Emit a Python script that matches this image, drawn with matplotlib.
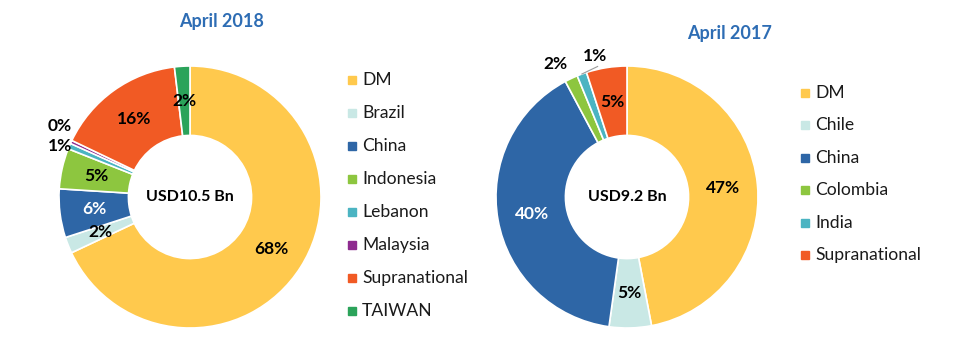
import numpy as np
import matplotlib
matplotlib.use("Agg")
import matplotlib.pyplot as plt

# ---------------- data ----------------
title_2018 = "April 2018"
total_2018 = "USD10.5 Bn"
cats_2018 = ["DM", "Brazil", "China", "Indonesia", "Lebanon", "Malaysia", "Supranational", "TAIWAN"]
vals_2018 = [68.0, 2.0, 6.0, 5.0, 0.7, 0.4, 16.0, 1.9]
labels_2018 = ["68%", "2%", "6%", "5%", "1%", "0%", "16%", "2%"]

title_2017 = "April 2017"
total_2017 = "USD9.2 Bn"
cats_2017 = ["DM", "Chile", "China", "Colombia", "India", "Supranational"]
vals_2017 = [47.0, 5.2, 40.0, 1.6, 1.2, 5.0]
labels_2017 = ["47%", "5%", "40%", "2%", "1%", "5%"]

# ---------------- style ----------------
colors = {
    "DM": "#FFC94D", "Brazil": "#C9E8E5", "Chile": "#C9E8E5",
    "China": "#2E66A6", "Indonesia": "#8DC63F", "Colombia": "#8DC63F",
    "Lebanon": "#4BB4C2", "India": "#4BB4C2", "Malaysia": "#8E2B8F",
    "Supranational": "#F15A24", "TAIWAN": "#2BA35A",
}
white_text = {"China"}
FONT = "Lato"
plt.rcParams["font.family"] = [FONT, "DejaVu Sans"]

W, H = 954, 351
fig = plt.figure(figsize=(W / 100, H / 100), dpi=100)

R = 131.0    # outer radius px
INNER = 0.47
PAD = 150.0
PCT_FS = 12.5


def make_ax(cx, cy):
    ax = fig.add_axes([(cx - PAD) / W, 1 - (cy + PAD) / H, 2 * PAD / W, 2 * PAD / H])
    return ax


def fix_limits(ax):
    lim = PAD / R
    ax.set_xlim(-lim, lim)
    ax.set_ylim(-lim, lim)
    ax.set_aspect("equal")
    ax.axis("off")


def donut(ax, cats, vals, labels, center_text, outside):
    wedges, _ = ax.pie(vals, colors=[colors[c] for c in cats], startangle=90,
                       counterclock=False, radius=1.0,
                       wedgeprops=dict(width=1 - INNER, edgecolor="white", linewidth=1.2))
    fix_limits(ax)
    for w, c, lab in zip(wedges, cats, labels):
        ang = np.deg2rad((w.theta1 + w.theta2) / 2)
        if c in outside:
            x, y, leader = outside[c]
            ax.text(x, y, lab, ha="center", va="center", fontsize=PCT_FS, fontweight="bold", color="black")
            if leader:
                ax.plot([x + 0.02, np.cos(ang) * 1.0], [y - 0.08, np.sin(ang) * 1.0],
                        color="#9A9A9A", lw=0.8)
        else:
            r = (1 + INNER) / 2
            ax.text(r * np.cos(ang), r * np.sin(ang), lab, ha="center", va="center",
                    fontsize=PCT_FS, fontweight="bold",
                    color="white" if c in white_text else "black")
    ax.text(0, 0, center_text, ha="center", va="center", fontsize=11.5, fontweight="bold")
    return wedges


def px(cx, cy, x, y):
    return ((x - cx) / R, -(y - cy) / R)


# left donut
cxL, cyL = 190, 197
axL = make_ax(cxL, cyL)
outL = {"Lebanon": (*px(cxL, cyL, 60, 146), False), "Malaysia": (*px(cxL, cyL, 60, 126), False)}
donut(axL, cats_2018, vals_2018, labels_2018, total_2018, outL)

# right donut
cxR, cyR = 627, 197
axR = make_ax(cxR, cyR)
outR = {"Colombia": (*px(cxR, cyR, 555, 64), False), "India": (*px(cxR, cyR, 595, 56), True)}
donut(axR, cats_2017, vals_2017, labels_2017, total_2017, outR)

# titles
title_color = "#2E6DB4"
fig.text(222 / W, 1 - 22 / H, title_2018, ha="center", va="center", fontsize=13, fontweight="bold", color=title_color)
fig.text(730 / W, 1 - 33 / H, title_2017, ha="center", va="center", fontsize=13, fontweight="bold", color=title_color)


def legend(cats, x0, y0, step):
    for i, c in enumerate(cats):
        y = y0 + i * step
        fig.patches.append(plt.Rectangle((x0 / W, 1 - (y + 4) / H), 8 / W, 8 / H,
                                         transform=fig.transFigure, color=colors[c], figure=fig))
        fig.text((x0 + 14) / W, 1 - y / H, c, ha="left", va="center", fontsize=12.6, color="#1a1a1a")


legend(cats_2018, 348, 80, 33)
legend(cats_2017, 801, 93, 32.4)

fig.savefig("out.png", dpi=100)
